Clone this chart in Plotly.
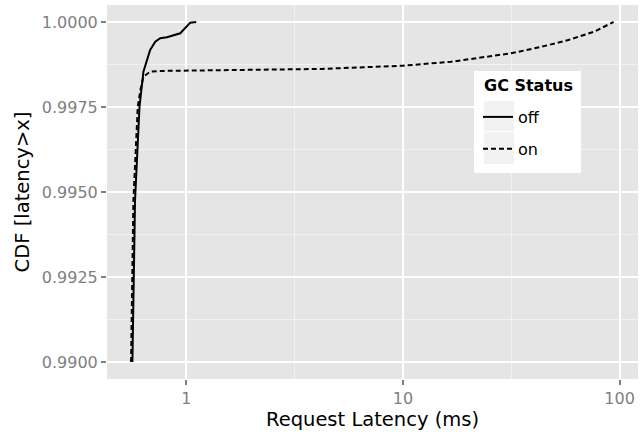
import plotly.graph_objects as go

# data
off_x = [0.564, 0.580, 0.608, 0.634, 0.681, 0.719, 0.758, 0.814, 0.938, 0.989, 1.043, 1.112]
off_y = [0.99000, 0.99476, 0.99750, 0.998538, 0.999176, 0.999421, 0.999521, 0.999550, 0.999668, 0.999815, 0.999980, 1.00000]
on_x = [0.556, 0.570, 0.597, 0.614, 0.634, 0.681, 0.75, 1.0, 1.16, 4.2, 10.0, 16.7, 31.6, 43.5, 58.0, 76.6, 93.8]
on_y = [0.99000, 0.99476, 0.99750, 0.998000, 0.998390, 0.998540, 0.998560, 0.998570, 0.998570, 0.998620, 0.998715, 0.998830, 0.999080, 0.999270, 0.999470, 0.999720, 1.00000]
series_names = ["off", "on"]
legend_title = "GC Status"
x_ticks = [1, 10, 100]
y_ticks = [0.9900, 0.9925, 0.9950, 0.9975, 1.0000]

FONT = "DejaVu Sans, Liberation Sans, Arial, sans-serif"
L, R, T, B = 107, 638, 5, 379
W, H = 640, 435


def px_x(p):
    return (p - L) / (R - L)


def px_y(p):
    return (B - p) / (B - T)


fig = go.Figure()
fig.add_trace(go.Scatter(x=off_x, y=off_y, mode="lines", name=series_names[0],
                         legendgroup="a",
                         line=dict(color="black", width=2, dash="solid")))
fig.add_trace(go.Scatter(x=on_x, y=on_y, mode="lines", name=series_names[1],
                         legendgroup="b",
                         line=dict(color="black", width=2, dash="5px,3px")))

shapes = [
    dict(type="rect", xref="paper", yref="paper", layer="above",
         x0=px_x(474), x1=px_x(581), y0=px_y(173), y1=px_y(71),
         fillcolor="white", line=dict(width=0)),
    dict(type="rect", xref="paper", yref="paper", layer="above",
         x0=px_x(484), x1=px_x(514), y0=px_y(131), y1=px_y(101),
         fillcolor="#F2F2F2", line=dict(width=0)),
    dict(type="rect", xref="paper", yref="paper", layer="above",
         x0=px_x(484), x1=px_x(514), y0=px_y(164), y1=px_y(132),
         fillcolor="#F2F2F2", line=dict(width=0)),
]

fig.update_layout(
    width=W, height=H,
    margin=dict(l=L, r=W - R, t=T, b=H - B),
    paper_bgcolor="white",
    plot_bgcolor="#E5E5E5",
    font=dict(family=FONT, size=16, color="black"),
    shapes=shapes,
    annotations=[dict(text="<b>%s</b>" % legend_title, xref="paper", yref="paper",
                      x=px_x(482), y=px_y(86), xanchor="left", yanchor="middle",
                      showarrow=False, font=dict(size=16, color="black"))],
    legend=dict(
        x=px_x(478), y=px_y(100), xanchor="left", yanchor="top",
        bgcolor="rgba(0,0,0,0)", borderwidth=0,
        font=dict(size=16), tracegroupgap=8,
    ),
)
fig.update_xaxes(
    type="log", range=[-0.366, 2.085], automargin=False,
    tickvals=x_ticks, ticktext=[str(v) for v in x_ticks],
    ticks="outside", ticklen=5, tickcolor="#7F7F7F", tickwidth=1.5,
    tickfont=dict(size=16, color="#7F7F7F"),
    showgrid=True, gridcolor="white", gridwidth=1.6,
    minor=dict(tickvals=[0.3162, 3.162, 31.62], showgrid=True, gridcolor="#F2F2F2", gridwidth=0.8, ticks=""),
    zeroline=False, showline=False,
    title=dict(text="Request Latency (ms)", font=dict(size=19.5), standoff=4),
)
fig.update_yaxes(
    range=[0.98950, 1.00050], automargin=False,
    tickvals=y_ticks, ticktext=["%.4f" % v for v in y_ticks],
    ticks="outside", ticklen=5, tickcolor="#7F7F7F", tickwidth=1.5,
    tickfont=dict(size=16, color="#7F7F7F"),
    showgrid=True, gridcolor="white", gridwidth=1.6,
    minor=dict(tickvals=[0.99125, 0.99375, 0.99625, 0.99875], showgrid=True, gridcolor="#F2F2F2", gridwidth=0.8, ticks=""),
    zeroline=False, showline=False,
    title=dict(text="CDF [latency>x]", font=dict(size=19.5), standoff=6),
)

fig.write_html("out.html",
               config={"displayModeBar": False},
               post_script="document.body.style.margin='0';document.body.style.padding='0';")
